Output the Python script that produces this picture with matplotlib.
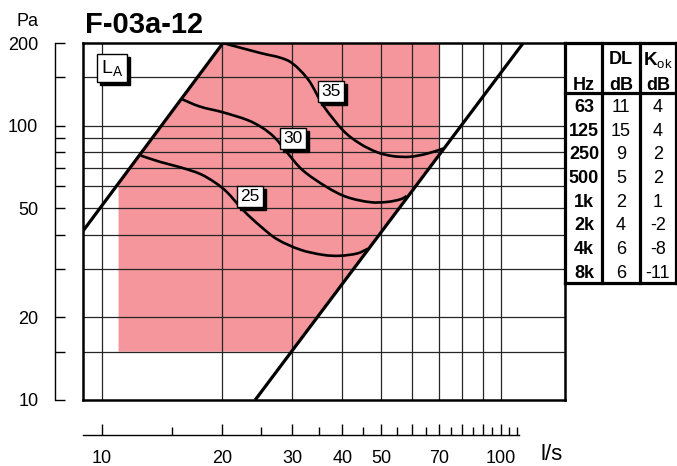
import numpy as np
import matplotlib
matplotlib.use("Agg")
import matplotlib.pyplot as plt
from matplotlib import transforms
from matplotlib.path import Path
from matplotlib.patches import PathPatch
from matplotlib.ticker import NullFormatter, NullLocator

plt.rcParams['font.family'] = ['Liberation Sans', 'DejaVu Sans']
plt.rcParams['mathtext.fontset'] = 'custom'
plt.rcParams['mathtext.rm'] = 'Liberation Sans'
plt.rcParams['mathtext.bf'] = 'Liberation Sans:bold'

# ============================
# Data (flow l/s, pressure Pa)
# ============================

title = "F-03a-12"

x_range = [8.96, 144.7]
y_range = [10, 200]

# working range limits (straight lines)
left_line_q = [8.96, 20.1]
left_line_p = [41.3, 200]
right_line_q = [24.2, 113.7]
right_line_p = [10, 200]

# shaded area limits
area_q = [11, 70]
area_p = [15, 200]

# sound level curves
curve25_q = [12.5, 14.0, 15.7, 17.6, 19.2, 20.6, 22.6, 24.9, 27.5, 31.4, 35.8, 39.5, 43.6, 46.4]
curve25_p = [77.8, 73.7, 70.5, 66.7, 62.0, 57.1, 49.1, 43.1, 38.5, 35.3, 33.8, 33.55, 34.2, 35.6]
curve30_q = [15.8, 17.6, 20.1, 23.1, 25.2, 27.1, 29.1, 31.9, 36.6, 41.1, 47.0, 51.8, 55.8, 58.1]
curve30_p = [125.1, 117.3, 111.8, 104.9, 98.3, 90.4, 79.8, 68.6, 59.7, 54.9, 52.6, 52.7, 53.8, 55.4]
curve35_q = [20.1, 24.9, 27.9, 30.1, 33.0, 35.9, 40.2, 44.3, 48.9, 53.6, 59.1, 65.2, 71.6]
curve35_p = [200, 184, 177, 168, 146, 118, 96, 86, 80, 77.4, 77, 79, 82.5]

curve_names = ["25", "30", "35"]
label_q = [23.5, 30.1, 37.5]
label_p = [55.2, 89.7, 132.9]

grid_q = [10, 20, 30, 40, 50, 60, 70, 80, 90, 100]
grid_p = [15, 20, 30, 40, 50, 60, 70, 80, 90, 100, 150]

x_major = [10, 20, 30, 40, 50, 60, 70, 80, 90, 100]
x_minor = [15, 25, 35, 45, 55, 65, 75, 85, 95, 105, 110]
x_labels = {10: "10", 20: "20", 30: "30", 40: "40", 50: "50", 70: "70", 100: "100"}
y_ticks = [10, 15, 20, 30, 40, 50, 60, 70, 80, 90, 100, 150, 200]
y_labels = {10: "10", 20: "20", 50: "50", 100: "100", 200: "200"}

hz = ["63", "125", "250", "500", "1k", "2k", "4k", "8k"]
dl = [11, 15, 9, 5, 2, 4, 6, 6]
kok = [4, 4, 2, 2, 1, -2, -8, -11]

# ============================
# Figure
# ============================

W, H = 677, 466
fig = plt.figure(figsize=(W / 100, H / 100), dpi=100)


def rect(x0, y0, x1, y1):
    return [x0 / W, 1 - y1 / H, (x1 - x0) / W, (y1 - y0) / H]


def line_p(qs, ps, q):
    b = np.log10(ps[1] / ps[0]) / np.log10(qs[1] / qs[0])
    return ps[0] * (q / qs[0]) ** b


def line_q(qs, ps, p):
    b = np.log10(ps[1] / ps[0]) / np.log10(qs[1] / qs[0])
    return qs[0] * (p / ps[0]) ** (1 / b)


def smooth_path(qs, ps):
    # smooth drawing through the read points (bezier segments in log space)
    L = np.column_stack([np.log10(qs), np.log10(ps)])
    Lp = np.vstack([L[0], L, L[-1]])
    verts = [L[0]]
    codes = [Path.MOVETO]
    for i in range(len(L) - 1):
        a, b, c, d = Lp[i], Lp[i + 1], Lp[i + 2], Lp[i + 3]
        verts += [b + (c - a) / 6, c - (d - b) / 6, c]
        codes += [Path.CURVE4] * 3
    return Path(10 ** np.array(verts), codes)


ax = fig.add_axes(rect(83, 43, 565, 400))
ax.set_xscale("log")
ax.set_yscale("log")
ax.set_xlim(x_range)
ax.set_ylim(y_range)
ax.set_xticks([])
ax.set_yticks([])
ax.xaxis.set_minor_locator(NullLocator())
ax.yaxis.set_minor_locator(NullLocator())
for s in ax.spines.values():
    s.set_linewidth(1.8)
    s.set_zorder(10)

# shaded area
poly_q = [area_q[0], area_q[0], line_q(left_line_q, left_line_p, area_p[1]),
          area_q[1], area_q[1], line_q(right_line_q, right_line_p, area_p[0])]
poly_p = [area_p[0], line_p(left_line_q, left_line_p, area_q[0]), area_p[1],
          area_p[1], line_p(right_line_q, right_line_p, area_q[1]), area_p[0]]
ax.fill(poly_q, poly_p, color="#f4969b", lw=0, zorder=1)

# grid
ax.vlines(grid_q, y_range[0], y_range[1], color="0.15", lw=0.9, zorder=2)
ax.hlines(grid_p, x_range[0], x_range[1], color="0.15", lw=0.9, zorder=2)

# limit lines
ax.plot(left_line_q, left_line_p, color="k", lw=2.3, zorder=4, solid_capstyle="butt")
ax.plot(right_line_q, right_line_p, color="k", lw=2.3, zorder=4, solid_capstyle="butt")

# curves
for cq, cp in [(curve25_q, curve25_p), (curve30_q, curve30_p), (curve35_q, curve35_p)]:
    ax.add_patch(PathPatch(smooth_path(cq, cp), fc="none", ec="k", lw=1.9, zorder=4))

# curve labels with shadow
shadow = transforms.offset_copy(ax.transData, fig=fig, x=2.2, y=-2.2, units="points")
for name, q, p in zip(curve_names, label_q, label_p):
    ax.text(q, p, name, transform=shadow, ha="center", va="center", fontsize=12.5,
            color="k", bbox=dict(boxstyle="square,pad=0.18", fc="k", ec="k", lw=1), zorder=5)
    ax.text(q, p, name, ha="center", va="center", fontsize=12.5,
            bbox=dict(boxstyle="square,pad=0.18", fc="white", ec="k", lw=1), zorder=6)

# L_A box
shadow_ax = transforms.offset_copy(ax.transAxes, fig=fig, x=2.2, y=-2.2, units="points")
ax.text(0.06, 0.93, r"$\mathrm{L_A}$", transform=shadow_ax, ha="center", va="center",
        fontsize=14, color="k", bbox=dict(boxstyle="square,pad=0.2", fc="k", ec="k", lw=1), zorder=5)
ax.text(0.06, 0.93, r"$\mathrm{L_A}$", transform=ax.transAxes, ha="center", va="center",
        fontsize=14, bbox=dict(boxstyle="square,pad=0.2", fc="white", ec="k", lw=1), zorder=6)

# ============================
# Separate y axis
# ============================

ay = fig.add_axes(rect(55, 43, 56, 400))
ay.set_yscale("log")
ay.set_ylim(y_range)
ay.set_xticks([])
for k in ["top", "right", "bottom"]:
    ay.spines[k].set_visible(False)
ay.spines["left"].set_linewidth(1.0)
ay.patch.set_visible(False)
ay.set_yticks(y_ticks)
ay.set_yticklabels([y_labels.get(t, "") for t in y_ticks])
ay.yaxis.set_minor_locator(NullLocator())
ay.tick_params(axis="y", direction="in", length=7.3, width=1.0, pad=12, labelsize=13)

# ============================
# Separate x axis
# ============================

axx = fig.add_axes(rect(83, 434, 565, 435))
axx.set_xscale("log")
axx.set_xlim(x_range)
axx.set_yticks([])
for k in ["top", "right", "left"]:
    axx.spines[k].set_visible(False)
axx.spines["bottom"].set_linewidth(1.0)
axx.spines["bottom"].set_bounds(x_range[0], 111)
axx.patch.set_visible(False)
axx.set_xticks(x_major)
axx.set_xticklabels([x_labels.get(t, "") for t in x_major])
axx.set_xticks(x_minor, minor=True)
axx.xaxis.set_minor_formatter(NullFormatter())
axx.tick_params(axis="x", which="major", direction="in", length=8, width=1.0, pad=11, labelsize=13)
axx.tick_params(axis="x", which="minor", direction="in", length=5.5, width=1.0)

# ============================
# Overlay: title, units, table
# ============================

ov = fig.add_axes([0, 0, 1, 1])
ov.set_xlim(0, W)
ov.set_ylim(H, 0)
ov.axis("off")
ov.patch.set_visible(False)

ov.text(85, 33, title, fontsize=21, fontweight="bold", ha="left", va="baseline")
ov.text(27, 21, "Pa", fontsize=13, ha="center", va="center")
ov.text(552, 455, "l/s", fontsize=16, ha="center", va="center")

col_x = [565, 602, 640, 676]
tab_top, head_bot = 43, 93
row_h = 23.7
tab_bot = 283
lw_t = 2.3
for x in col_x:
    ov.plot([x, x], [tab_top, tab_bot], color="k", lw=lw_t, solid_capstyle="projecting")
for y in [tab_top, head_bot, tab_bot]:
    ov.plot([col_x[0], col_x[-1]], [y, y], color="k", lw=lw_t, solid_capstyle="projecting")

cx = [584, 621, 658]
ov.text(cx[1], 60, "DL", fontsize=13, fontweight="bold", ha="center", va="center")
ov.text(cx[2], 61, r"$\mathbf{K}_{\mathrm{ok}}$", fontsize=13.5, ha="center", va="center")
ov.text(cx[0], 85, "Hz", fontsize=13, fontweight="bold", ha="center", va="center")
ov.text(cx[1], 85, "dB", fontsize=13, fontweight="bold", ha="center", va="center")
ov.text(cx[2], 85, "dB", fontsize=13, fontweight="bold", ha="center", va="center")

for i, (f, d, k) in enumerate(zip(hz, dl, kok)):
    y = 107.5 + i * row_h
    ov.text(cx[0], y, f, fontsize=13, fontweight="bold", ha="center", va="center")
    ov.text(cx[1], y, str(d), fontsize=13, ha="center", va="center")
    ov.text(cx[2], y, str(k), fontsize=13, ha="center", va="center")

fig.savefig("out.png", dpi=100)
plt.close(fig)
